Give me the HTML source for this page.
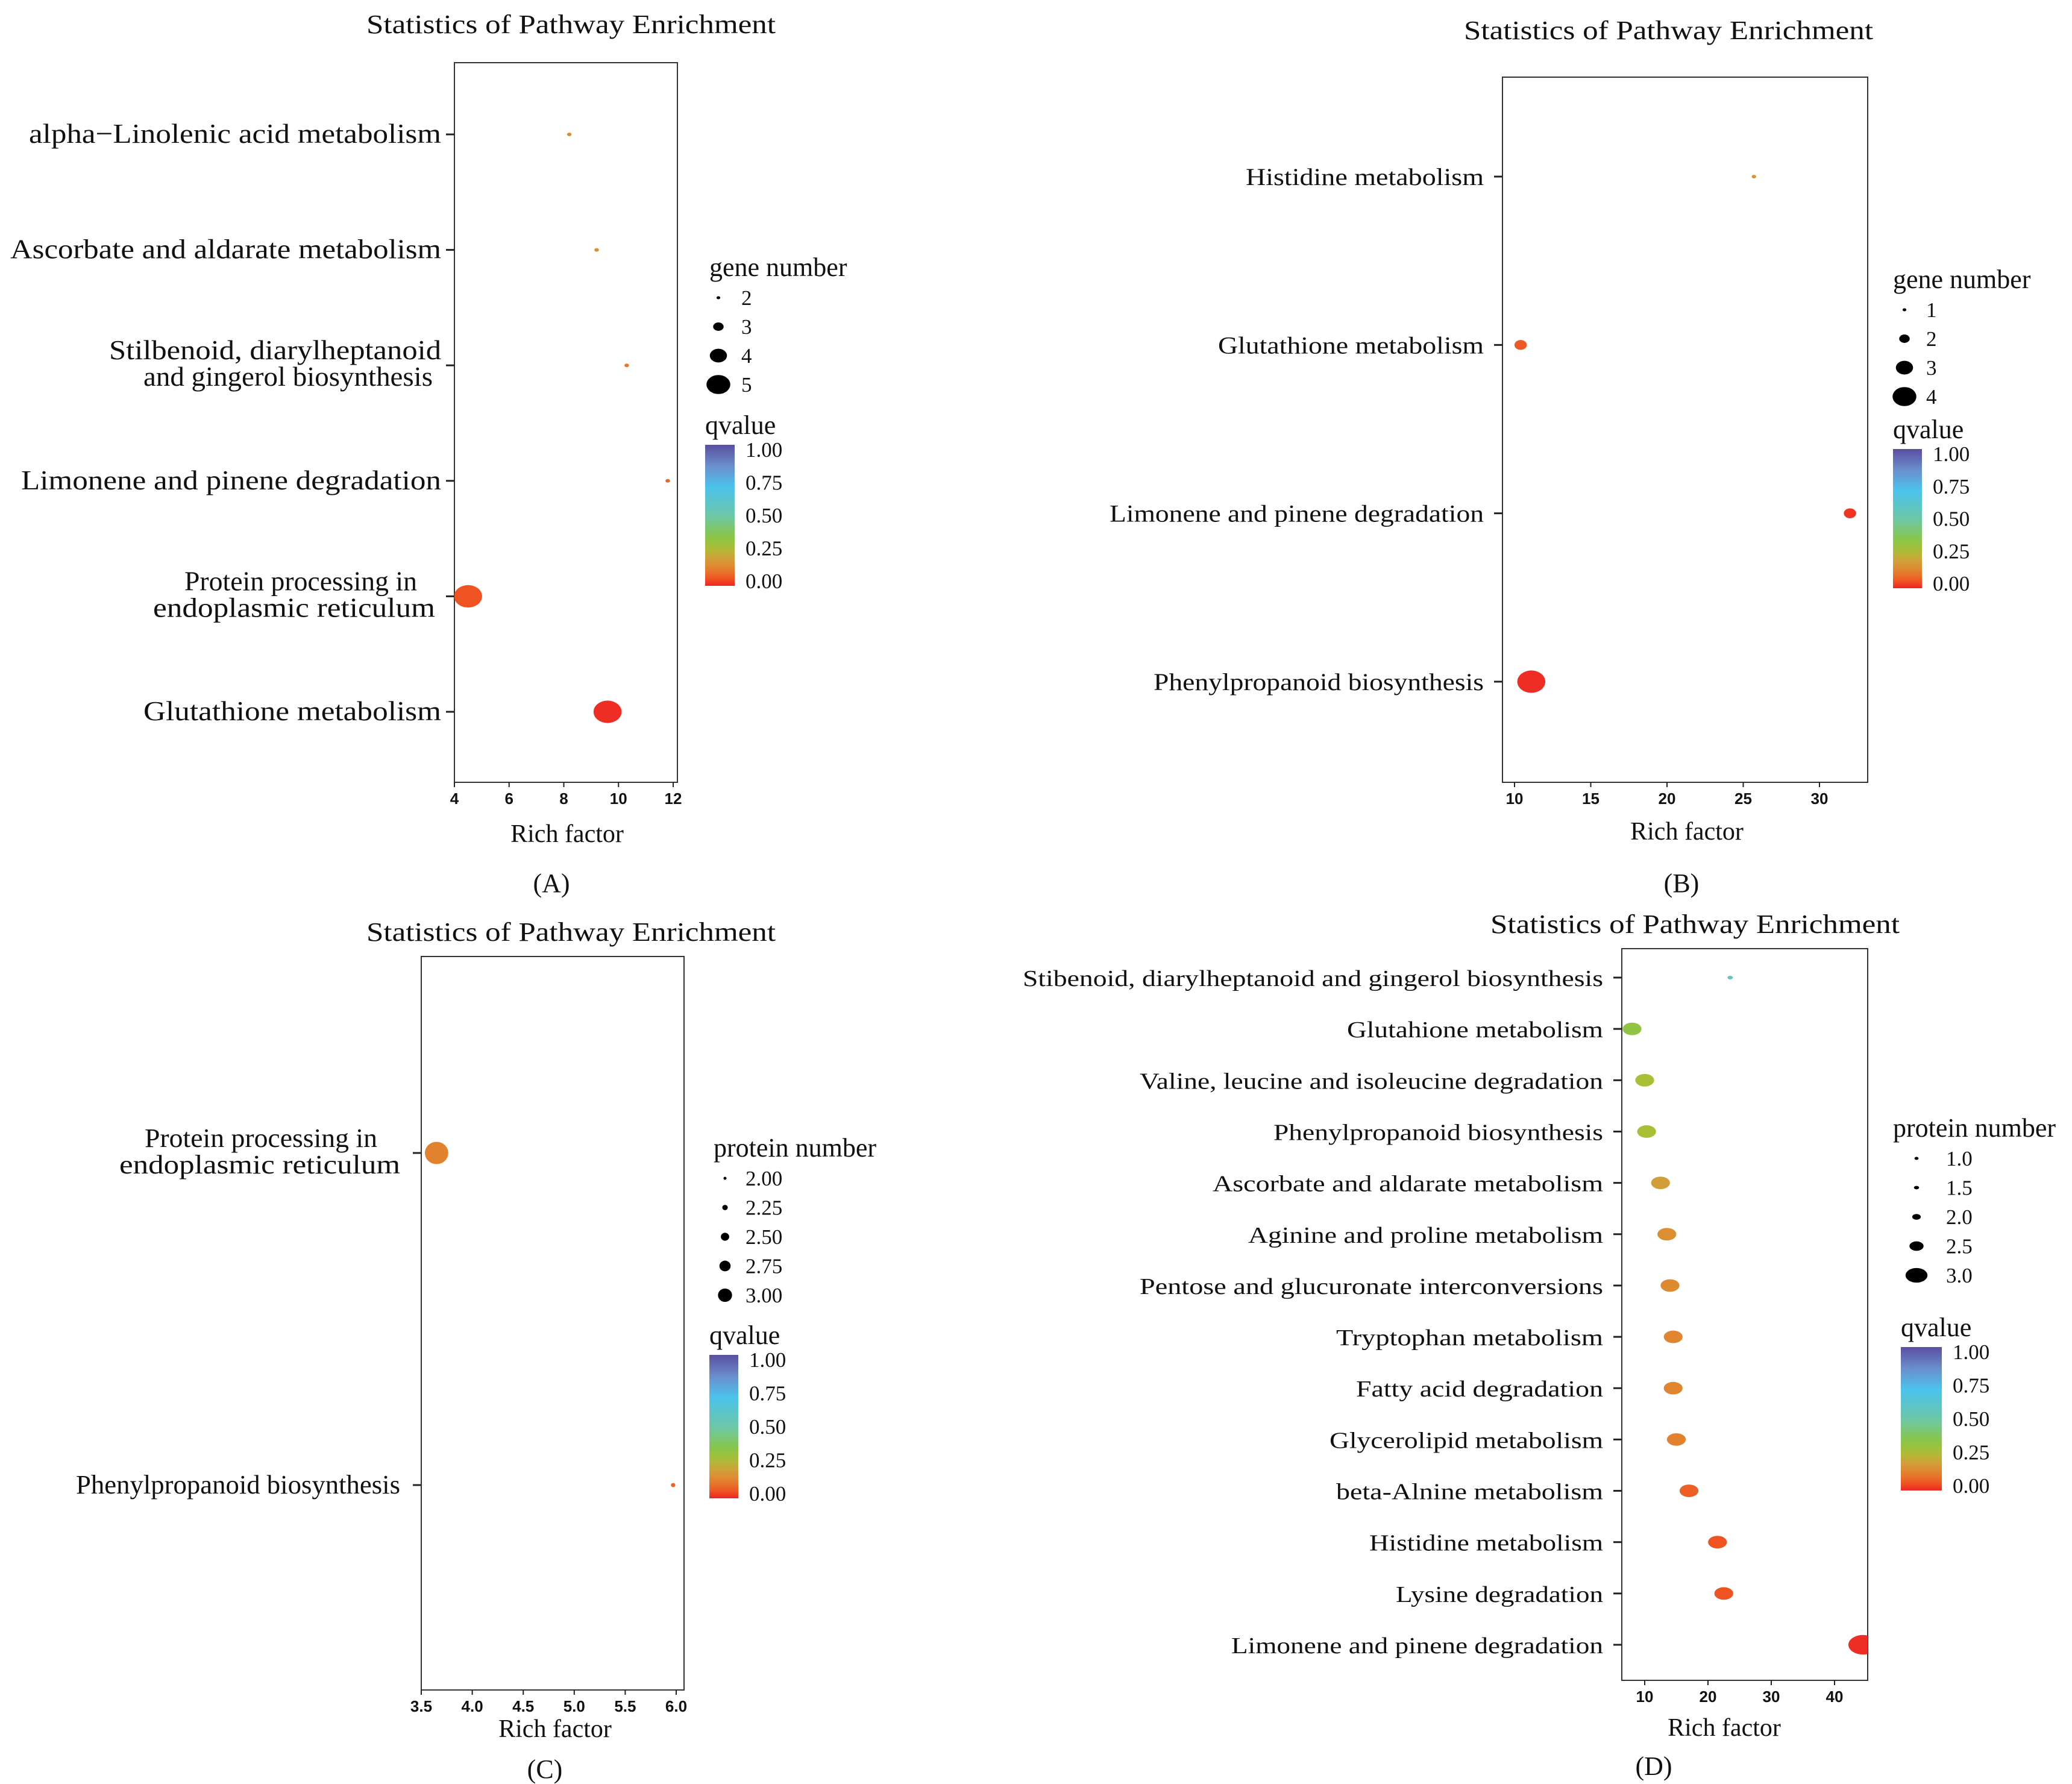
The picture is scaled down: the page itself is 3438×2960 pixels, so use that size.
<!DOCTYPE html>
<html><head><meta charset="utf-8"><style>
html,body{margin:0;padding:0;background:#fff}
svg{display:block}
.serif{font-family:"Liberation Serif",serif;fill:#111}
.tick{font-family:"Liberation Sans",sans-serif;font-weight:bold;font-size:26px;fill:#111}
</style></head><body>
<svg id="fig" width="3438" height="2960" viewBox="0 0 3438 2960" xmlns="http://www.w3.org/2000/svg"></svg>
<script>
// ---- Panel A data ----
const aCats = ["alpha\u2212Linolenic acid metabolism","Ascorbate and aldarate metabolism","Stilbenoid, diarylheptanoid|and gingerol biosynthesis","Limonene and pinene degradation","Protein processing in|endoplasmic reticulum","Glutathione metabolism"];
const aRich = [8.2, 9.2, 10.3, 11.8, 4.5, 9.6];
const aCount = [2, 2, 2, 2, 5, 5];
const aQ = [0.15, 0.15, 0.1, 0.08, 0.05, 0.01];
const aTicks = [4, 6, 8, 10, 12];
const aSizeLegend = [2, 3, 4, 5];
// ---- Panel B data ----
const bCats = ["Histidine metabolism","Glutathione metabolism","Limonene and pinene degradation","Phenylpropanoid biosynthesis"];
const bRich = [25.7, 10.4, 32.0, 11.1];
const bCount = [1, 2, 2, 4];
const bQ = [0.17, 0.06, 0.02, 0.01];
const bTicks = [10, 15, 20, 25, 30];
const bSizeLegend = [1, 2, 3, 4];
// ---- Panel C data ----
const cCats = ["Protein processing in|endoplasmic reticulum","Phenylpropanoid biosynthesis"];
const cRich = [3.65, 5.97];
const cCount = [3, 2];
const cQ = [0.12, 0.08];
const cTicks = [3.5, 4.0, 4.5, 5.0, 5.5, 6.0];
const cTickLabels = ["3.5","4.0","4.5","5.0","5.5","6.0"];
const cSizeLegend = [2.00, 2.25, 2.50, 2.75, 3.00];
// ---- Panel D data ----
const dCats = ["Stibenoid, diarylheptanoid and gingerol biosynthesis","Glutahione metabolism","Valine, leucine and isoleucine degradation","Phenylpropanoid biosynthesis","Ascorbate and aldarate metabolism","Aginine and proline metabolism","Pentose and glucuronate interconversions","Tryptophan metabolism","Fatty acid degradation","Glycerolipid metabolism","beta-Alnine metabolism","Histidine metabolism","Lysine degradation","Limonene and pinene degradation"];
const dRich = [23.5, 8.0, 10.0, 10.3, 12.5, 13.5, 14.0, 14.5, 14.5, 15.0, 17.0, 21.5, 22.5, 44.5];
const dCount = [1, 2.5, 2.5, 2.5, 2.5, 2.5, 2.5, 2.5, 2.5, 2.5, 2.5, 2.5, 2.5, 3];
const dQ = [0.55, 0.33, 0.27, 0.27, 0.19, 0.15, 0.14, 0.13, 0.13, 0.12, 0.07, 0.05, 0.05, 0.01];
const dTicks = [10, 20, 30, 40];
const dSizeLegend = [1.0, 1.5, 2.0, 2.5, 3.0];
const qTicks = ["1.00","0.75","0.50","0.25","0.00"];

const NS = "http://www.w3.org/2000/svg";
const svg = document.getElementById("fig");
function mk(tag, attrs, parent, text) {
  const e = document.createElementNS(NS, tag);
  for (const k in attrs) e.setAttribute(k, attrs[k]);
  if (text !== undefined) e.textContent = text;
  (parent || svg).appendChild(e);
  return e;
}
const stops = [[0,[238,36,36]],[0.05,[239,83,34]],[0.12,[227,130,46]],[0.2,[207,162,58]],[0.27,[169,191,54]],[0.35,[137,198,74]],[0.5,[108,199,168]],[0.7,[76,195,236]],[0.85,[106,143,204]],[1,[90,78,160]]];
function qColor(q) {
  for (let i = 1; i < stops.length; i++) {
    if (q <= stops[i][0]) {
      const t = (q - stops[i-1][0]) / (stops[i][0] - stops[i-1][0]);
      const a = stops[i-1][1], b = stops[i][1];
      return "rgb(" + a.map((v, j) => Math.round(v + (b[j]-v)*t)).join(",") + ")";
    }
  }
  return "rgb(90,78,160)";
}

function panel(cfg) {
  const g = mk("g", {});
  
  
  const {x0, x1, y0, y1, dmin, dmax} = cfg;
  const xs = v => cfg.px0 + (v - dmin) / (dmax - dmin) * (cfg.px1 - cfg.px0);
  const n = cfg.cats.length;
  const ys = i => cfg.row0 + i * (cfg.row1 - cfg.row0) / (n - 1);
  const t = mk("text", {x: cfg.titleX, y: cfg.titleY, "font-size": 44, class: "serif", textLength: 679, lengthAdjust: "spacingAndGlyphs"}, g, "Statistics of Pathway Enrichment");
  
  
  const cid = "clip" + cfg.caption.replace(/\W/g, "");
  const defs = mk("defs", {}, g);
  const cp = mk("clipPath", {id: cid}, defs);
  mk("rect", {x: x0, y: y0, width: x1 - x0, height: y1 - y0}, cp);
  const box = mk("rect", {x: x0, y: y0, width: x1 - x0, height: y1 - y0, fill: "none", stroke: "#333", "stroke-width": 2}, g);
  
  
  cfg.cats.forEach((c, i) => {
    const y = ys(i);
    const tk = mk("line", {x1: x0 - 14, x2: x0, y1: y, y2: y, stroke: "#222", "stroke-width": 3}, g);
    
    
    const parts = c.split("|");
    const lw = cfg.labelW[i];
    if (parts.length === 1) {
      const lt = mk("text", {x: cfg.labelRight, y: y + 14, "font-size": cfg.fs, class: "serif", "text-anchor": "end", textLength: lw[0], lengthAdjust: "spacingAndGlyphs"}, g, parts[0]);
      
      
    } else {
      parts.forEach((p, k) => {
        const lt = mk("text", {x: cfg.labelRight - lw[2*k+1], y: y - 10 + k * 44, "font-size": cfg.fs, class: "serif", "text-anchor": "end", textLength: lw[2*k], lengthAdjust: "spacingAndGlyphs"}, g, p);
        
        
      });
    }
  });
  cfg.ticks.forEach((v, i) => {
    const x = xs(v);
    const tl = mk("line", {x1: x, x2: x, y1: y1, y2: y1 + 8, stroke: "#222", "stroke-width": 2}, g);
    
    
    const tt = mk("text", {x: x, y: y1 + 36, class: "tick", "text-anchor": "middle"}, g, cfg.tickLabels ? cfg.tickLabels[i] : String(v));
    
    
  });
  const xt = mk("text", {x: cfg.xtX, y: cfg.xtY, "font-size": 42, class: "serif", "text-anchor": "middle"}, g, "Rich factor");
  
  
  const cap = mk("text", {x: cfg.capX, y: cfg.capY, "font-size": 44, class: "serif", "text-anchor": "middle"}, g, cfg.caption);
  
  
  const pg = mk("g", {"clip-path": "url(#" + cid + ")"}, g);
  cfg.rich.forEach((v, i) => {
    const r = cfg.rad(cfg.count[i]);
    const e = mk("ellipse", {cx: xs(v), cy: ys(i), rx: r * cfg.asp, ry: r, fill: qColor(cfg.q[i])}, pg);
    
    
  });
  const lt = mk("text", {x: cfg.legX, y: cfg.legY, "font-size": 44, class: "serif"}, g, cfg.legTitle);
  
  
  cfg.sizeLeg.forEach((v, i) => {
    const y = cfg.legY + 36 + i * cfg.legStep;
    const r = cfg.rad(v) * cfg.legScale;
    const d = mk("ellipse", {cx: cfg.legDotX, cy: y, rx: Math.max(2.5, r * cfg.asp), ry: Math.max(2.5, r), fill: "#000"}, g);
    
    
    const s = mk("text", {x: cfg.legValX, y: y + 12, "font-size": 35, class: "serif"}, g, cfg.sizeLegLabels ? cfg.sizeLegLabels[i] : String(v));
    
    
  });
  const qt = mk("text", {x: cfg.cbX, y: cfg.cbY0 - 18, "font-size": 44, class: "serif"}, g, "qvalue");
  
  
  const gid = "grad" + cfg.caption.replace(/\W/g, "");
  const lg = mk("linearGradient", {id: gid, x1: 0, y1: 1, x2: 0, y2: 0}, defs);
  for (let k = 0; k <= 20; k++) mk("stop", {offset: k / 20, "stop-color": qColor(k / 20)}, lg);
  const cb = mk("rect", {x: cfg.cbX, y: cfg.cbY0, width: cfg.cbW, height: cfg.cbY1 - cfg.cbY0, fill: "url(#" + gid + ")"}, g);
  
  
  qTicks.forEach((s, k) => {
    const y = cfg.cbY0 + 8 + k * (cfg.cbY1 - cfg.cbY0 - 16) / 4;
    const q = mk("text", {x: cfg.cbX + cfg.cbW + 18, y: y + 12, "font-size": 35, class: "serif"}, g, s);
    
    
  });
}

panel({name: "panel-a", caption: "(A)", cats: aCats, rich: aRich, count: aCount, q: aQ, ticks: aTicks,
  x0: 754, x1: 1124, y0: 104, y1: 1298, dmin: 4, dmax: 12, px0: 754, px1: 1117, row0: 223, row1: 1181,
  titleX: 608, titleY: 55, labelRight: 732, fs: 46,
  labelW: [[684],[715],[551,0,480,14],[697],[386,40,468,10],[494]],
  xtX: 941, xtY: 1397, capX: 915, capY: 1480, asp: 1.25, rad: n => 3 + (n - 2) * 5.2,
  legTitle: "gene number", legX: 1177, legY: 458, legStep: 48, sizeLeg: aSizeLegend, legScale: 0.85, legDotX: 1192, legValX: 1230,
  cbX: 1170, cbW: 49, cbY0: 738, cbY1: 972});
panel({name: "panel-b", caption: "(B)", cats: bCats, rich: bRich, count: bCount, q: bQ, ticks: bTicks,
  x0: 2493, x1: 3099, y0: 128, y1: 1298, dmin: 10, dmax: 30, px0: 2513, px1: 3019, row0: 293, row1: 1131,
  titleX: 2429, titleY: 65, labelRight: 2462, fs: 40,
  labelW: [[395],[441],[621],[548]],
  xtX: 2799, xtY: 1393, capX: 2790, capY: 1480, asp: 1.25, rad: n => 3 + (n - 1) * 5.2,
  legTitle: "gene number", legX: 3141, legY: 478, legStep: 48, sizeLeg: bSizeLegend, legScale: 0.85, legDotX: 3160, legValX: 3196,
  cbX: 3141, cbW: 48, cbY0: 745, cbY1: 976});
panel({name: "panel-c", caption: "(C)", cats: cCats, rich: cRich, count: cCount, q: cQ, ticks: cTicks, tickLabels: cTickLabels,
  x0: 699, x1: 1135, y0: 1587, y1: 2804, dmin: 3.5, dmax: 6.0, px0: 699, px1: 1122, row0: 1913, row1: 2464,
  titleX: 608, titleY: 1561, labelRight: 664, fs: 44,
  labelW: [[386,38,466,0],[538]],
  xtX: 921, xtY: 2882, capX: 904, capY: 2950, asp: 1.05, rad: n => 3.5 + (n - 2) * 15,
  legTitle: "protein number", legX: 1184, legY: 1919, legStep: 48.5, sizeLeg: cSizeLegend, sizeLegLabels: ["2.00","2.25","2.50","2.75","3.00"], legScale: 0.6, legDotX: 1203, legValX: 1237,
  cbX: 1177, cbW: 48, cbY0: 2248, cbY1: 2486});
panel({name: "panel-d", caption: "(D)", cats: dCats, rich: dRich, count: dCount, q: dQ, ticks: dTicks,
  x0: 2691, x1: 3099, y0: 1574, y1: 2788, dmin: 10, dmax: 40, px0: 2729, px1: 3044, row0: 1622, row1: 2729,
  titleX: 2473, titleY: 1548, labelRight: 2660, fs: 38,
  labelW: [[963],[425],[769],[547],[648],[589],[769],[443],[410],[454],[443],[388],[344],[617]],
  xtX: 2861, xtY: 2880, capX: 2744, capY: 2945, asp: 1.5, rad: n => 3 + (n - 1) * (n - 1) * 3.3,
  legTitle: "protein number", legX: 3141, legY: 1886, legStep: 48.5, sizeLeg: dSizeLegend, sizeLegLabels: ["1.0","1.5","2.0","2.5","3.0"], legScale: 0.75, legDotX: 3180, legValX: 3229,
  cbX: 3154, cbW: 68, cbY0: 2235, cbY1: 2473});
</script>
</body></html>
